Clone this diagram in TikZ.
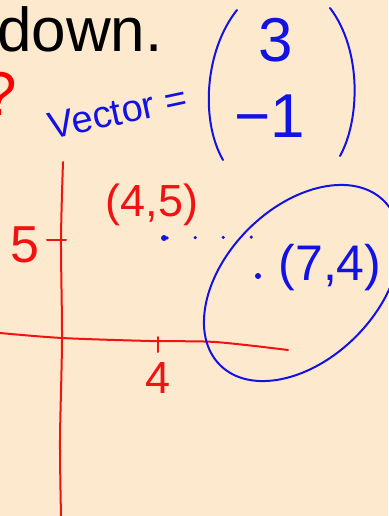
\documentclass[tikz,border=0pt]{standalone}
\usepackage{fontspec}
\setmainfont{Liberation Sans}
\usetikzlibrary{shapes.geometric}
\definecolor{paper}{RGB}{253,234,206}
\definecolor{inkred}{RGB}{242,18,18}
\definecolor{inkblue}{RGB}{18,18,228}
\begin{document}
\begin{tikzpicture}[
    x=1pt, y=-1pt,
    pen/.style={line width=2pt, line cap=round, line join=round},
    redpen/.style={pen, draw=inkred},
    bluepen/.style={pen, draw=inkblue},
    scrawl/.style={inner sep=0pt, font=\fontsize{#1}{#1}\selectfont},
    dot/.style={circle, fill=inkblue, inner sep=0pt, minimum size=6pt},
]

\fill[paper] (0,0) rectangle (388,516);
\useasboundingbox (0,0) rectangle (388,516);

\node[scrawl=62, anchor=base west] (down) at (-3,52) {down.};
\node[scrawl=62, anchor=base west, text=red] (ask) at (-18,115) {?};

% the vector
\node[scrawl=38, text=inkblue, rotate=12] (vector) at (118,112) {Vector =};
\draw[bluepen] (237,10) .. controls (205,50) and (200,120) .. (223,160);
\draw[bluepen] (330,8) .. controls (362,50) and (360,120) .. (340,156);
\node[scrawl=62, text=inkblue] (top) at (276,40) {3};
\node[scrawl=62, text=inkblue] (bottom) at (270,116) {−1};

% axes
\draw[redpen] plot[smooth] coordinates {(63,162) (61,240) (62,340) (60,440) (61,516)};
\draw[redpen] plot[smooth] coordinates {(0,333) (62,338) (150,341) (215,342) (288,350)};
\draw[redpen] (47,240) -- (66,240);
\draw[redpen] (158,337) -- (158,352);
\node[scrawl=52, text=inkred] (five) at (25,245) {5};
\node[scrawl=45, text=inkred] (four) at (158,378) {4};

% points
\node[dot] (start) at (164,238) {};
\node[scrawl=45, text=inkred] (start label) at (152,205) {(4,5)};
\coordinate (turn) at (256,237);
\draw[inkblue, line width=3.5pt, line cap=round, dash pattern=on 0pt off 28pt] (start) -- (turn);
\node[dot] (end) at (258,276) {};
\node[scrawl=50, text=inkblue] (end label) at (330,268) {(7,4)};
\node[ellipse, draw=inkblue, line width=2pt, rotate=45, minimum width=232pt, minimum height=152pt, inner sep=0pt] (ring) at (302,283) {};

\end{tikzpicture}
\end{document}
